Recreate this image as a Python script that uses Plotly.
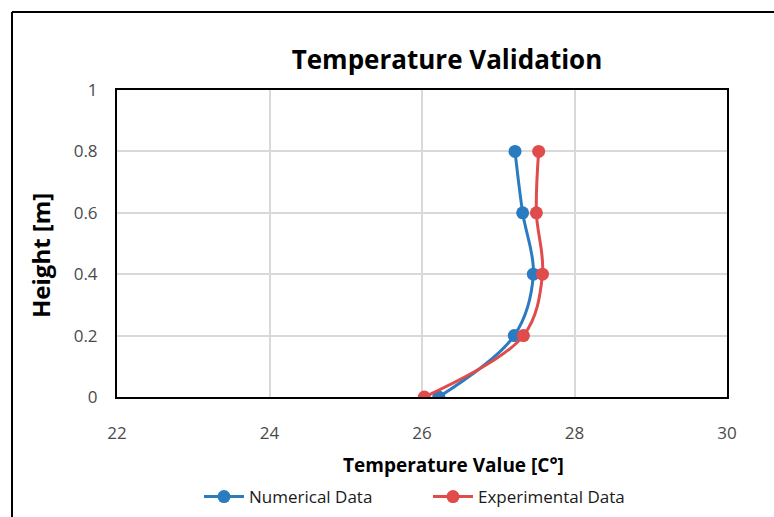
import plotly.graph_objects as go

heights = [0, 0.2, 0.4, 0.6, 0.8]
numerical = [26.22, 27.21, 27.46, 27.32, 27.22]
experimental = [26.03, 27.33, 27.58, 27.50, 27.53]
x_ticks = [22, 24, 26, 28, 30]
y_ticks = [0, 0.2, 0.4, 0.6, 0.8, 1]
y_ticktext = ["0", "0.2", "0.4", "0.6", "0.8", "1"]

W, H = 774, 517
L, R, T, B = 117, 47, 90, 120
pw = W - L - R
ph = H - T - B

def px(xp):
    return (xp - L) / pw

def py(yp):
    return (H - B - yp) / ph

fig = go.Figure()
fig.add_trace(go.Scatter(x=numerical, y=heights, name="Numerical Data",
                         mode="lines+markers", line=dict(color="#2B7BC0", width=3, shape="spline"),
                         marker=dict(size=13, color="#2B7BC0")))
fig.add_trace(go.Scatter(x=experimental, y=heights, name="Experimental Data",
                         mode="lines+markers", line=dict(color="#E04B4B", width=3, shape="spline"),
                         marker=dict(size=13, color="#E04B4B")))

font = "Open Sans"
fig.update_layout(
    width=W, height=H,
    margin=dict(l=L, r=R, t=T, b=B, autoexpand=False),
    paper_bgcolor="white", plot_bgcolor="white",
    title=dict(text="<b>Temperature Validation</b>", x=447/W, xanchor="center",
               y=1 - 60/H, yanchor="middle", font=dict(family=font, size=26, color="black")),
    xaxis=dict(range=[22, 30], tickvals=x_ticks, showgrid=True, gridcolor="#D9D9D9",
               gridwidth=2, zeroline=False, showline=True, linecolor="black", linewidth=2, mirror=True,
               tickfont=dict(family=font, size=17, color="#4a4a4a"),
               ticks="outside", ticklen=20, tickcolor="rgba(0,0,0,0)"),
    yaxis=dict(range=[0, 1], tickvals=y_ticks, ticktext=y_ticktext,
               showgrid=True, gridcolor="#D9D9D9", gridwidth=2, zeroline=False,
               showline=True, linecolor="black", linewidth=2, mirror=True,
               tickfont=dict(family=font, size=17, color="#4a4a4a"),
               ticks="outside", ticklen=14, tickcolor="rgba(0,0,0,0)"),
    legend=dict(orientation="h", x=px(428), xanchor="center", y=py(497), yanchor="middle",
                font=dict(family=font, size=17, color="#1a1a1a"),
                entrywidth=174, entrywidthmode="pixels", itemwidth=40),
    showlegend=True,
)

fig.add_annotation(text="<b>Temperature Value [C°]</b>", xref="paper", yref="paper",
                   x=px(453), y=py(465), xanchor="center", yanchor="middle", showarrow=False,
                   font=dict(family=font, size=19, color="black"))
fig.add_annotation(text="<b>Height [m]</b>", xref="paper", yref="paper",
                   x=px(40), y=py(255), xanchor="center", yanchor="middle", showarrow=False,
                   textangle=-90, font=dict(family=font, size=24, color="black"))

# outer frame lines
fig.add_shape(type="line", xref="paper", yref="paper",
              x0=px(12), x1=px(12), y0=py(12), y1=py(H + 5),
              line=dict(color="black", width=2))
fig.add_shape(type="line", xref="paper", yref="paper",
              x0=px(12), x1=px(W + 5), y0=py(12), y1=py(12),
              line=dict(color="black", width=2))

fig.write_html("out.html")
